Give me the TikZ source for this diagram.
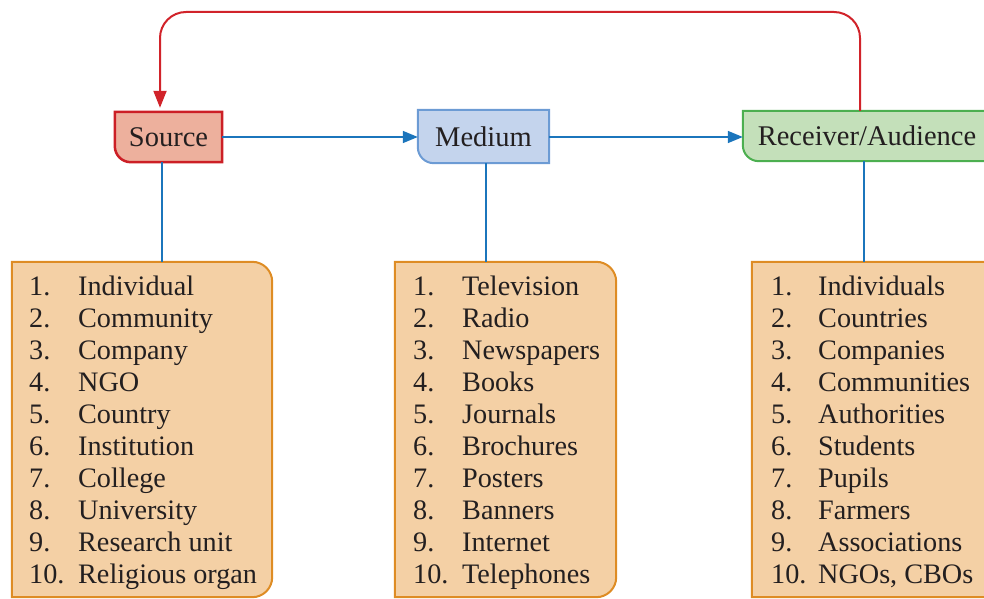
\documentclass[tikz,border=0pt]{standalone}
\usepackage{fontspec}
\setmainfont{Liberation Serif}
\usetikzlibrary{arrows.meta,backgrounds}
\definecolor{txt}{HTML}{231F20}
\definecolor{srcfill}{HTML}{EDB09D}
\definecolor{srcline}{HTML}{CC1F26}
\definecolor{medfill}{HTML}{C4D4ED}
\definecolor{medline}{HTML}{6C9BD4}
\definecolor{recfill}{HTML}{C4E0BA}
\definecolor{recline}{HTML}{4CAF50}
\definecolor{listfill}{HTML}{F4D0A5}
\definecolor{listline}{HTML}{DE8C24}
\definecolor{conn}{HTML}{1B75BC}
\definecolor{fbred}{HTML}{D1232A}
\begin{document}
\begin{tikzpicture}[x=1pt,y=1pt,
  titlebox/.style={draw=none,inner sep=0pt,text=txt,font=\fontsize{28.5}{34}\selectfont},
  listbox/.style={draw=none,inner sep=0pt},
  listtext/.style={inner sep=0pt,text=txt,font=\fontsize{28.2}{32}\selectfont,anchor=base west},
  conline/.style={draw=conn,line width=1.6pt},
  conarrow/.style={conline,-{Triangle[length=15pt,width=12pt]}},
  fbline/.style={draw=fbred,line width=2pt,rounded corners=26pt,-{Triangle[length=17pt,width=13pt]}}
]
\useasboundingbox (0,0) rectangle (984,598);
\clip (0,0) rectangle (984,598);

% title nodes
\node[titlebox,minimum width=107pt,minimum height=50pt] (src) at (168.5,461) {Source};
\node[titlebox,minimum width=131pt,minimum height=53pt] (med) at (483.5,461.5) {Medium};
\node[titlebox,minimum width=248pt,minimum height=50pt] (rec) at (867,462) {Receiver/Audience};

% list boxes
\node[listbox,minimum width=260pt,minimum height=335pt] (srclist) at (142,168.5) {};
\node[listbox,minimum width=221pt,minimum height=335pt] (medlist) at (505.5,168.5) {};
\node[listbox,minimum width=250pt,minimum height=335pt] (reclist) at (877,168.5) {};

\begin{scope}[on background layer]
  \path[fill=srcfill,draw=srcline,line width=2.5pt]
    (src.north west) -- (src.north east) -- (src.south east)
    -- ([xshift=16pt]src.south west) arc[start angle=270,end angle=180,radius=16pt] -- cycle;
  \path[fill=medfill,draw=medline,line width=2pt]
    (med.north west) -- (med.north east) -- (med.south east)
    -- ([xshift=16pt]med.south west) arc[start angle=270,end angle=180,radius=16pt] -- cycle;
  \path[fill=recfill,draw=recline,line width=2pt]
    (rec.north west) -- (rec.north east) -- (rec.south east)
    -- ([xshift=16pt]rec.south west) arc[start angle=270,end angle=180,radius=16pt] -- cycle;
  \foreach \b in {srclist,medlist,reclist}{
    \path[fill=listfill,draw=listline,line width=2pt]
      (\b.south west) -- (\b.north west) -- ([xshift=-20pt]\b.north east)
      arc[start angle=90,end angle=0,radius=20pt]
      -- ([yshift=20pt]\b.south east) arc[start angle=0,end angle=-90,radius=20pt] -- cycle;
  }
\end{scope}

% list texts
\node[listtext] (srct) at (29,303) {\begin{tabular}[t]{@{}p{49pt}@{}l@{}}
1. & Individual\\ 2. & Community\\ 3. & Company\\ 4. & NGO\\ 5. & Country\\
6. & Institution\\ 7. & College\\ 8. & University\\ 9. & Research unit\\ 10. & Religious organ
\end{tabular}};
\node[listtext] (medt) at (413,303) {\begin{tabular}[t]{@{}p{49pt}@{}l@{}}
1. & Television\\ 2. & Radio\\ 3. & Newspapers\\ 4. & Books\\ 5. & Journals\\
6. & Brochures\\ 7. & Posters\\ 8. & Banners\\ 9. & Internet\\ 10. & Telephones
\end{tabular}};
\node[listtext] (rect) at (771,303) {\begin{tabular}[t]{@{}p{47pt}@{}l@{}}
1. & Individuals\\ 2. & Countries\\ 3. & Companies\\ 4. & Communities\\ 5. & Authorities\\
6. & Students\\ 7. & Pupils\\ 8. & Farmers\\ 9. & Associations\\ 10. & NGOs, CBOs
\end{tabular}};

% connectors
\draw[conarrow] (src.east) -- (src.east -| med.west);
\draw[conarrow] ([yshift=-0.5pt]med.east) -- ([yshift=-0.5pt]med.east -| rec.west);
\draw[conline] ([xshift=-6.5pt]src.south) -- ([xshift=-6.5pt]src.south |- srclist.north);
\draw[conline] ([xshift=2.5pt]med.south) -- ([xshift=2.5pt]med.south |- medlist.north);
\draw[conline] ([xshift=-3pt]rec.south) -- ([xshift=-3pt]rec.south |- reclist.north);

% feedback
\coordinate (fbtop) at (0,586);
\draw[fbline] ([xshift=-7pt]rec.north) -- ([xshift=-7pt]rec.north |- fbtop)
  -- ([xshift=-8.5pt]src.north |- fbtop) -- ([xshift=-8.5pt,yshift=4pt]src.north);
\end{tikzpicture}
\end{document}
